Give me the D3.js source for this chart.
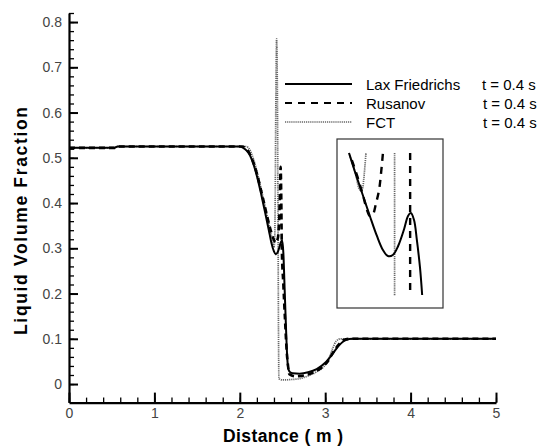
<!DOCTYPE html>
<html>
<head>
<meta charset="utf-8">
<script src="https://cdn.jsdelivr.net/npm/d3@7"></script>
<style>
  html, body { margin: 0; padding: 0; background: #fff; }
  svg { display: block; font-family: "Liberation Sans", Arial, sans-serif; }
</style>
</head>
<body>
<svg id="chart" width="539" height="446"></svg>
<script>
// Liquid volume fraction profiles along the pipe at t = 0.4 s, three schemes.
// Each series: [distance (m), liquid volume fraction]
const laxFriedrichs = [
  [0, 0.522], [0.53, 0.522], [0.57, 0.525], [2.0, 0.525], [2.04, 0.522], [2.08, 0.516],
  [2.12, 0.505], [2.16, 0.486], [2.2, 0.46], [2.25, 0.42], [2.3, 0.376], [2.34, 0.34],
  [2.37, 0.312], [2.4, 0.293], [2.42, 0.287], [2.44, 0.29], [2.46, 0.3], [2.48, 0.313],
  [2.495, 0.318], [2.51, 0.29], [2.525, 0.21], [2.54, 0.13], [2.555, 0.06], [2.57, 0.032],
  [2.59, 0.026], [2.62, 0.024], [2.7, 0.023], [2.8, 0.026], [2.9, 0.033], [3.0, 0.047],
  [3.08, 0.065], [3.16, 0.085], [3.24, 0.097], [3.32, 0.1], [5, 0.1]
];
const rusanov = [
  [0, 0.522], [0.53, 0.522], [0.57, 0.525], [2.03, 0.525], [2.07, 0.521], [2.11, 0.511],
  [2.15, 0.494], [2.2, 0.465], [2.25, 0.427], [2.3, 0.387], [2.35, 0.348], [2.39, 0.323],
  [2.42, 0.313], [2.445, 0.322], [2.46, 0.36], [2.47, 0.42], [2.478, 0.48], [2.485, 0.42],
  [2.492, 0.3], [2.51, 0.22], [2.53, 0.14], [2.55, 0.07], [2.565, 0.04], [2.58, 0.022],
  [2.65, 0.017], [2.75, 0.019], [2.85, 0.025], [2.95, 0.035], [3.03, 0.05], [3.1, 0.072],
  [3.17, 0.09], [3.24, 0.099], [3.3, 0.1], [5, 0.1]
];
const fct = [
  [0, 0.522], [0.53, 0.522], [0.57, 0.525], [2.07, 0.525], [2.11, 0.52], [2.14, 0.508],
  [2.18, 0.485], [2.22, 0.455], [2.27, 0.415], [2.32, 0.372], [2.36, 0.337], [2.385, 0.314],
  [2.398, 0.302], [2.408, 0.315], [2.415, 0.42], [2.422, 0.62], [2.431, 0.763], [2.441, 0.62],
  [2.448, 0.35], [2.453, 0.12], [2.458, 0.012], [2.5, 0.009], [2.6, 0.01], [2.7, 0.012],
  [2.8, 0.018], [2.9, 0.027], [2.98, 0.038], [3.04, 0.055], [3.09, 0.08], [3.13, 0.095],
  [3.18, 0.1], [5, 0.1]
];

// Close-up of the dip around 2.3-2.6 m (null splits a branch that leaves the window)
const insetLax = [
  [2.334, 0.4067], [2.351, 0.3888], [2.371, 0.3689], [2.393, 0.3471], [2.413, 0.3282],
  [2.43, 0.3149], [2.444, 0.3092], [2.458, 0.3102], [2.473, 0.3187], [2.49, 0.3348],
  [2.501, 0.3471], [2.509, 0.3499], [2.518, 0.3433], [2.526, 0.3244], [2.535, 0.2979],
  [2.541, 0.2723]
];
const insetRusanov = [
  [2.342, 0.4001], [2.359, 0.3831], [2.374, 0.366], [2.385, 0.3528], [2.393, 0.3471],
  [2.402, 0.349], [2.41, 0.3585], [2.419, 0.3717], [2.425, 0.3888], [2.43, 0.4067],
  null, [2.507, 0.4067], [2.507, 0.2714]
];
const insetFct = [
  [2.334, 0.4067], [2.351, 0.3888], [2.365, 0.3717], [2.371, 0.3726], [2.376, 0.3831],
  [2.379, 0.3944], [2.382, 0.4067],
  null, [2.463, 0.4067], [2.463, 0.2714]
];

const xTicks = [0, 1, 2, 3, 4, 5];
const xTickLabels = ["0", "1", "2", "3", "4", "5"];
const yTicks = [0, 0.1, 0.2, 0.3, 0.4, 0.5, 0.6, 0.7, 0.8];
const yTickLabels = ["0", "0.1", "0.2", "0.3", "0.4", "0.5", "0.6", "0.7", "0.8"];
const seriesNames = ["Lax Friedrichs", "Rusanov", "FCT"];
const seriesTimes = ["t = 0.4 s", "t = 0.4 s", "t = 0.4 s"];

const svg = d3.select("#chart");

const x = d3.scaleLinear().domain([0, 5]).range([69, 496]);
const y = d3.scaleLinear().domain([-0.041, 0.82]).range([402.6, 13]);

const styles = [
  { stroke: "#000", width: 2, dash: null },
  { stroke: "#000", width: 2.6, dash: "6,4" },
  { stroke: "#666", width: 1.7, dash: "1.2,0.9" }
];

// minor ticks
const gMinorY = svg.append("g").attr("transform", `translate(${x(0)},0)`)
  .call(d3.axisLeft(y).tickValues(d3.range(0, 0.821, 0.02)).tickSizeInner(-5).tickSizeOuter(0).tickFormat(""));
const gMinorX = svg.append("g").attr("transform", `translate(0,${y(-0.041)})`)
  .call(d3.axisBottom(x).tickValues(d3.range(0, 5.001, 0.2)).tickSizeInner(-5).tickSizeOuter(0).tickFormat(""));
[gMinorY, gMinorX].forEach(g => {
  g.select(".domain").remove();
  g.selectAll("line").attr("stroke", "#000").attr("stroke-width", 1.3);
});

// major axes
const gY = svg.append("g").attr("transform", `translate(${x(0)},0)`)
  .call(d3.axisLeft(y).tickValues(yTicks).tickSizeInner(-9).tickSizeOuter(0).tickPadding(7)
    .tickFormat((d, i) => yTickLabels[i]));
const gX = svg.append("g").attr("transform", `translate(0,${y(-0.041)})`)
  .call(d3.axisBottom(x).tickValues(xTicks).tickSizeInner(-10).tickSizeOuter(0).tickPadding(5)
    .tickFormat((d, i) => xTickLabels[i]));
[gY, gX].forEach(g => {
  g.select(".domain").attr("stroke", "#000").attr("stroke-width", 2.2);
  g.selectAll(".tick line").attr("stroke", "#000").attr("stroke-width", 2);
  g.selectAll(".tick text").attr("fill", "#444").style("font-size", "14px")
    .style("font-family", "'Liberation Sans', Arial, sans-serif");
});

// axis titles
svg.append("text")
  .attr("x", 283).attr("y", 442)
  .attr("text-anchor", "middle")
  .attr("textLength", 120).attr("lengthAdjust", "spacing")
  .style("font-size", "17.5px").style("font-weight", "bold")
  .text("Distance ( m )");
svg.append("text")
  .attr("transform", "translate(27,221) rotate(-90)")
  .attr("text-anchor", "middle")
  .attr("textLength", 228).attr("lengthAdjust", "spacing")
  .style("font-size", "17.5px").style("font-weight", "bold")
  .text("Liquid Volume Fraction");

// profiles
const line = d3.line().x(d => x(d[0])).y(d => y(d[1])).curve(d3.curveMonotoneX);
[fct, rusanov, laxFriedrichs].forEach((data, k) => {
  const s = styles[2 - k];
  svg.append("path")
    .datum(data)
    .attr("d", line)
    .attr("fill", "none")
    .attr("stroke", s.stroke)
    .attr("stroke-width", s.width)
    .attr("stroke-dasharray", s.dash)
    .attr("stroke-linejoin", "round");
});

// legend
const legendRows = [84, 103, 122];
seriesNames.forEach((name, i) => {
  const s = styles[i];
  svg.append("line")
    .attr("x1", 285).attr("x2", 352)
    .attr("y1", legendRows[i]).attr("y2", legendRows[i])
    .attr("stroke", s.stroke).attr("stroke-width", i === 2 ? 1.6 : 2.2)
    .attr("stroke-dasharray", i === 1 ? "7,6" : s.dash);
  svg.append("text")
    .attr("x", 366).attr("y", legendRows[i] + 5.5)
    .style("font-size", "15px")
    .text(name);
  svg.append("text")
    .attr("x", i === 0 ? 482 : 483).attr("y", legendRows[i] + 5.5)
    .style("font-size", "15px")
    .text(seriesTimes[i]);
});

// close-up panel
const ix = d3.scaleLinear().domain([2.30, 2.60]).range([337, 443]);
const iy = d3.scaleLinear().domain([0.26, 0.42]).range([308, 139]);
svg.append("rect")
  .attr("x", 337).attr("y", 139).attr("width", 106).attr("height", 169)
  .attr("fill", "#fff").attr("stroke", "#333").attr("stroke-width", 1.2);
const insetLine = d3.line()
  .defined(d => d !== null)
  .x(d => ix(d[0])).y(d => iy(d[1]))
  .curve(d3.curveCatmullRom.alpha(0.5));
[[insetFct, styles[2]], [insetRusanov, styles[1]], [insetLax, styles[0]]].forEach(([data, s]) => {
  svg.append("path")
    .datum(data)
    .attr("d", insetLine)
    .attr("fill", "none")
    .attr("stroke", s.stroke)
    .attr("stroke-width", s === styles[1] ? 2.4 : s.width)
    .attr("stroke-dasharray", s === styles[1] ? "7,6" : s.dash);
});
</script>
</body>
</html>
